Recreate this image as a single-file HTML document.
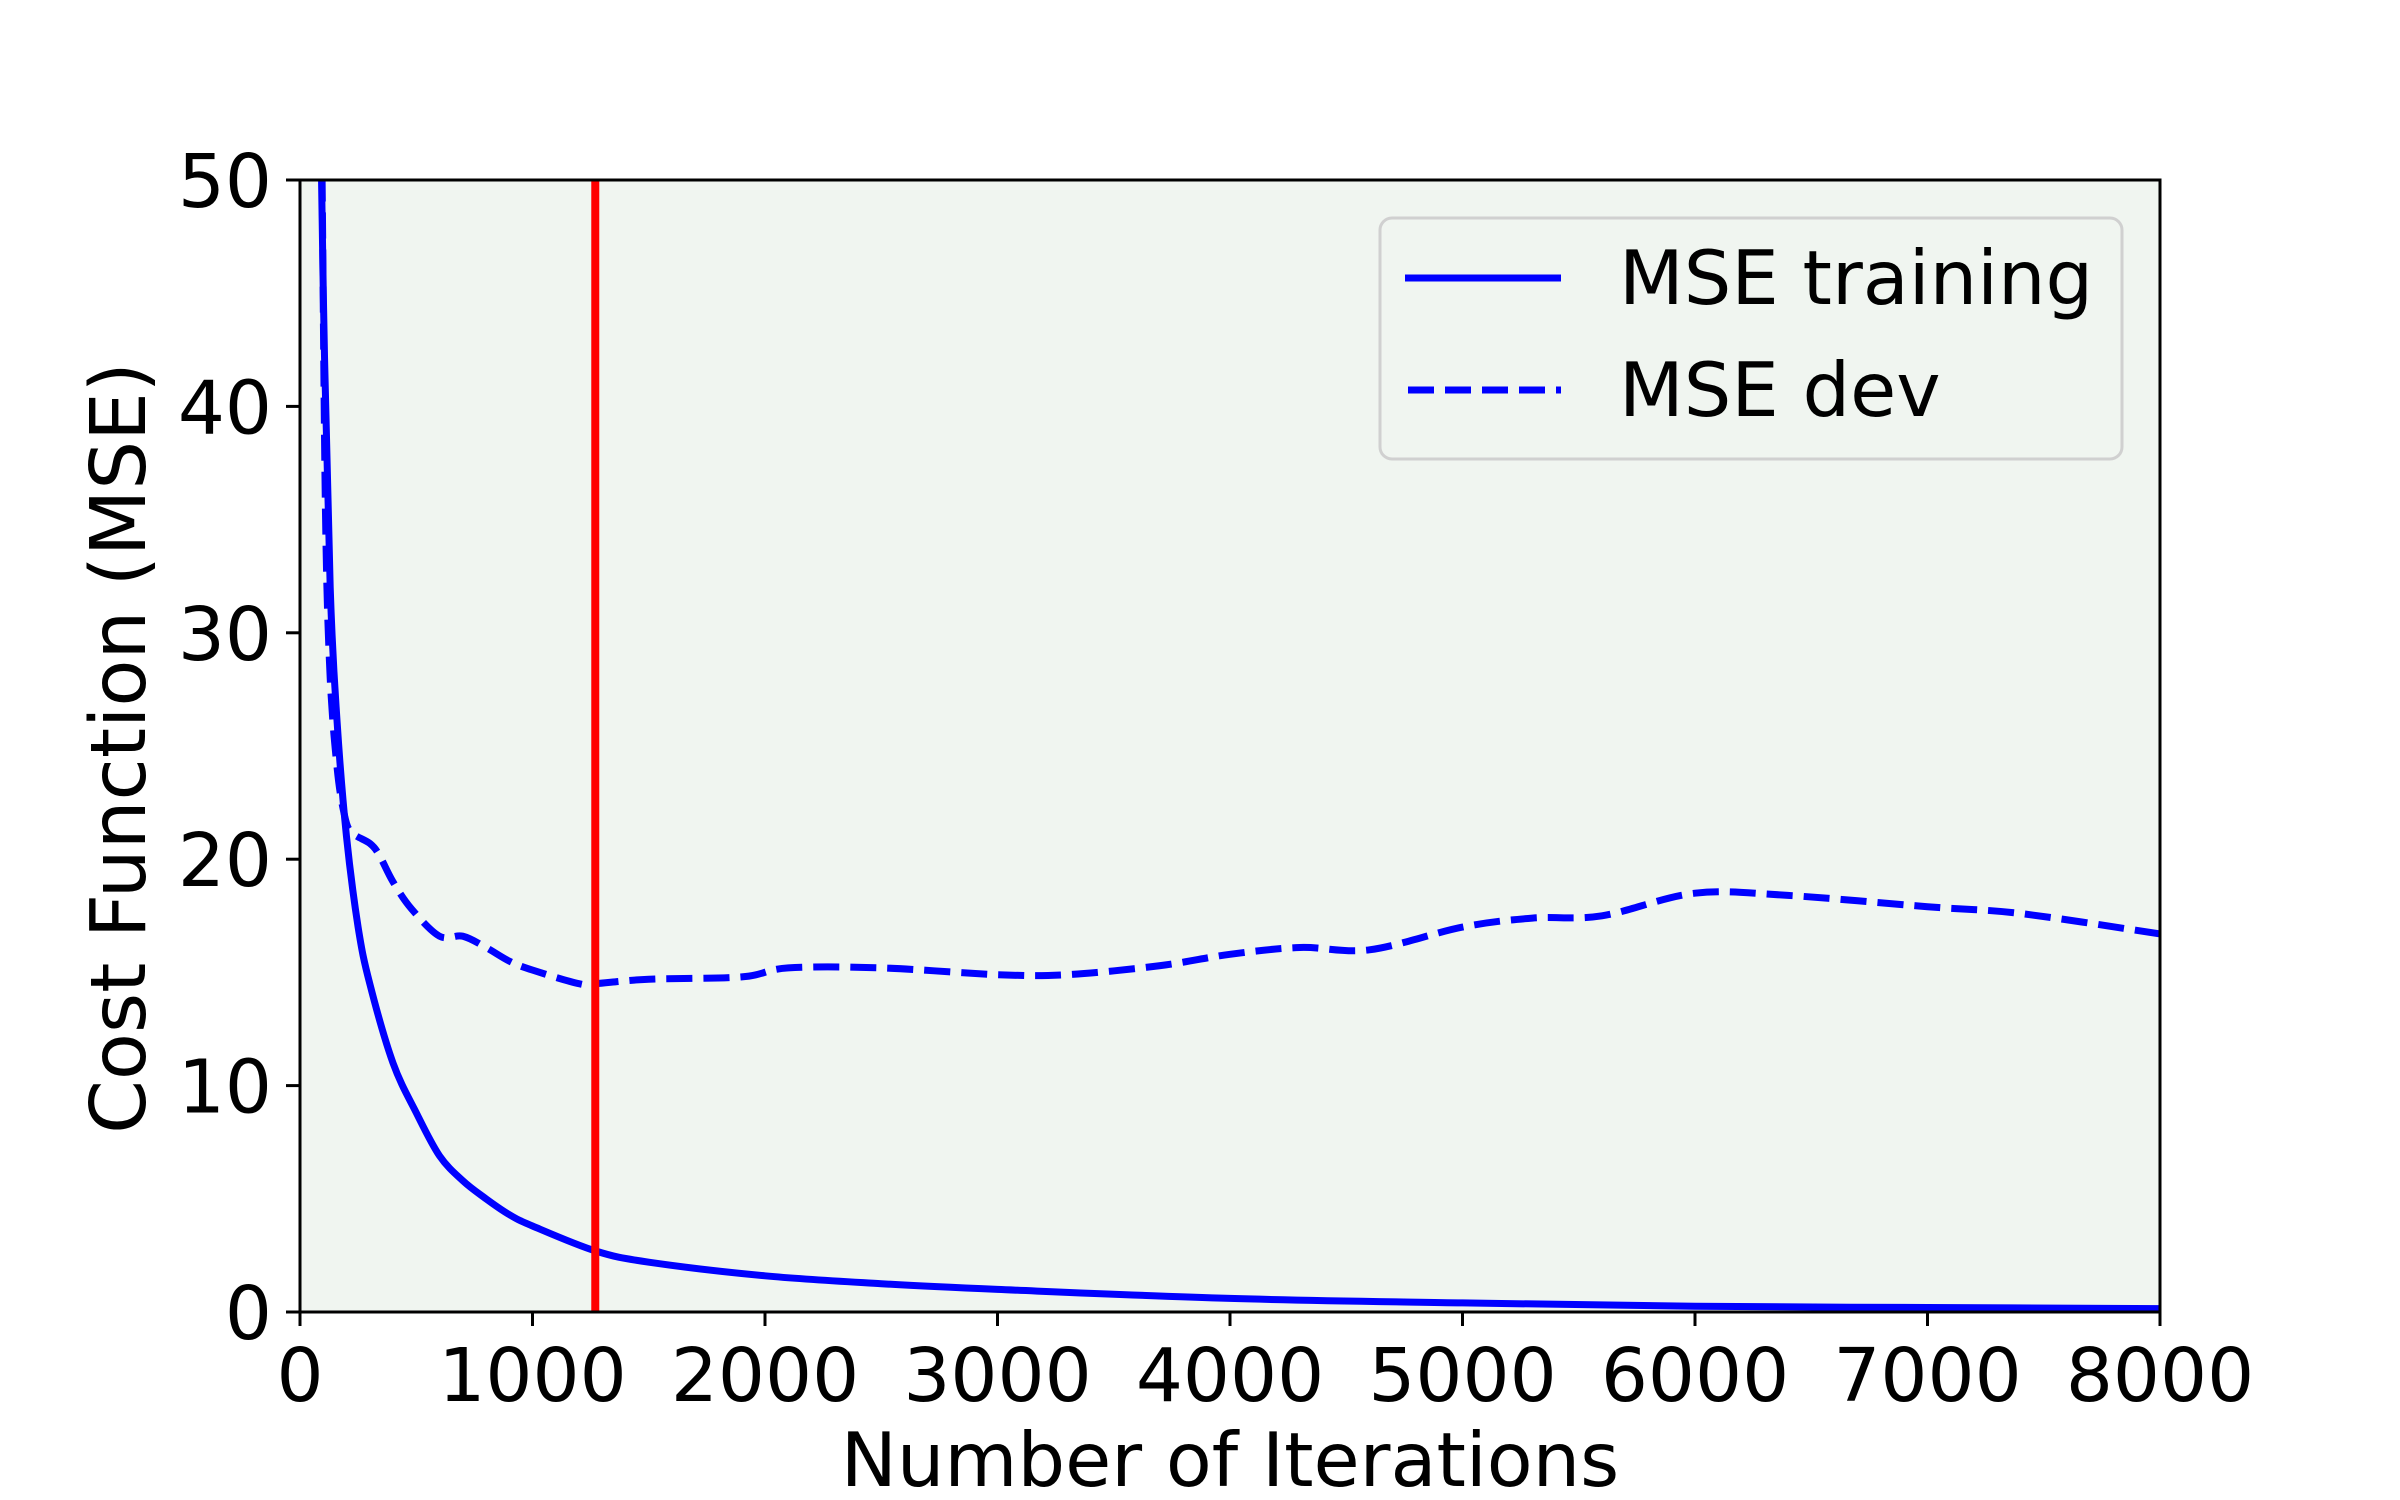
<!DOCTYPE html>
<html><head><meta charset="utf-8"><style>
html,body{margin:0;padding:0;background:#fff}
svg{display:block}
text{font-family:"DejaVu Sans","Liberation Sans",sans-serif;fill:#000}
</style></head><body>
<svg id="chart" width="2400" height="1500" xmlns="http://www.w3.org/2000/svg">
<rect x="300" y="180" width="1860" height="1132" fill="#f0f5f0"/>
<g id="marks"></g>
<g id="axes"></g>
<text transform="translate(145,748) rotate(-90)" text-anchor="middle" font-size="77">Cost Function (MSE)</text>
<text x="1230" y="1486" text-anchor="middle" font-size="75">Number of Iterations</text>
<g>
<rect x="1380" y="218" width="742" height="241" rx="12" fill="#f0f5f0" stroke="#d0d0d0" stroke-width="3"/>
<line x1="1405" y1="278" x2="1561" y2="278" stroke="#0000ff" stroke-width="7"/>
<text x="1619" y="304" font-size="75">MSE training</text>
<line x1="1408" y1="390" x2="1561" y2="390" stroke="#0000ff" stroke-width="7" stroke-dasharray="26,11"/>
<text x="1619" y="416" font-size="75">MSE dev</text>
</g>
</svg>
<script>
const trainX=[80,100,130,160,200,250,300,400,500,600,700,800,900,1000,1270,1500,2000,2500,3000,4000,5000,6000,7000,8000];
const trainY=[60,45,32,26,21,17,14.5,11,8.8,6.9,5.8,5.0,4.3,3.8,2.7,2.2,1.6,1.25,1.0,0.6,0.4,0.25,0.2,0.15];
const devX=[85,95,110,130,160,190,220,300,340,400,480,600,700,800,900,1000,1200,1270,1500,1900,2100,2500,3000,3300,3700,4000,4300,4600,5000,5300,5600,6000,6400,7000,7400,8000];
const devY=[60,50,35,28,24,22,21.2,20.7,20.2,19,17.8,16.6,16.6,16.1,15.5,15.1,14.5,14.5,14.7,14.8,15.2,15.2,14.9,14.9,15.3,15.8,16.1,16.0,17.0,17.4,17.5,18.5,18.4,17.9,17.6,16.7];
const bestIter=[1270];
const xTicks=[0,1000,2000,3000,4000,5000,6000,7000,8000];
const yTicks=[0,10,20,30,40,50];
const X0=300,X1=2160,Y0=1312,Y1=180;
const sx=v=>X0+(v/8000)*(X1-X0);
const sy=v=>Y0-(v/50)*(Y0-Y1);
const NS="http://www.w3.org/2000/svg";
const marks=document.getElementById('marks');
const axes=document.getElementById('axes');
const clip=document.createElementNS(NS,'clipPath');clip.setAttribute('id','pc');
const cr=document.createElementNS(NS,'rect');cr.setAttribute('x',X0);cr.setAttribute('y',Y1);cr.setAttribute('width',X1-X0);cr.setAttribute('height',Y0-Y1);
clip.appendChild(cr);marks.appendChild(clip);
function path(xs,ys,dash,name){
 const p=document.createElementNS(NS,'path');
 let d='M'+sx(xs[0]).toFixed(1)+','+sy(ys[0]).toFixed(1);
 for(let i=1;i<xs.length;i++){
  const x0=sx(xs[i-1]),y0=sy(ys[i-1]),x1=sx(xs[i]),y1=sy(ys[i]);
  const xp=i>1?sx(xs[i-2]):x0,yp=i>1?sy(ys[i-2]):y0;
  const xn=i<xs.length-1?sx(xs[i+1]):x1,yn=i<xs.length-1?sy(ys[i+1]):y1;
  const c1x=x0+(x1-xp)/6,c1y=y0+(y1-yp)/6,c2x=x1-(xn-x0)/6,c2y=y1-(yn-y0)/6;
  d+='C'+c1x.toFixed(1)+','+c1y.toFixed(1)+' '+c2x.toFixed(1)+','+c2y.toFixed(1)+' '+x1.toFixed(1)+','+y1.toFixed(1);
 }
 p.setAttribute('d',d);
 p.setAttribute('fill','none');p.setAttribute('stroke','#0000ff');p.setAttribute('stroke-width','7');
 p.setAttribute('stroke-linejoin','round');p.setAttribute('clip-path','url(#pc)');
 if(dash)p.setAttribute('stroke-dasharray',dash);
 
 
 marks.appendChild(p);
}
path(devX,devY,'26,11','dev-line');
path(trainX,trainY,null,'training-line');
bestIter.forEach(b=>{
 const l=document.createElementNS(NS,'line');
 l.setAttribute('x1',sx(b));l.setAttribute('x2',sx(b));l.setAttribute('y1',Y1);l.setAttribute('y2',Y0);
 l.setAttribute('stroke','#ff0000');l.setAttribute('stroke-width','8');
 
 
 marks.appendChild(l);
});
const fr=document.createElementNS(NS,'rect');
fr.setAttribute('x',X0);fr.setAttribute('y',Y1);fr.setAttribute('width',X1-X0);fr.setAttribute('height',Y0-Y1);
fr.setAttribute('fill','none');fr.setAttribute('stroke','#000');fr.setAttribute('stroke-width','3');


axes.appendChild(fr);
xTicks.forEach(t=>{
 const l=document.createElementNS(NS,'line');
 l.setAttribute('x1',sx(t));l.setAttribute('x2',sx(t));l.setAttribute('y1',Y0);l.setAttribute('y2',Y0+14);
 l.setAttribute('stroke','#000');l.setAttribute('stroke-width','3');
 
 
 axes.appendChild(l);
 const tx=document.createElementNS(NS,'text');
 tx.setAttribute('x',sx(t));tx.setAttribute('y',1401);tx.setAttribute('text-anchor','middle');tx.setAttribute('font-size','74');
 tx.textContent=t;
 
 
 axes.appendChild(tx);
});
yTicks.forEach(t=>{
 const l=document.createElementNS(NS,'line');
 l.setAttribute('x1',X0-14);l.setAttribute('x2',X0);l.setAttribute('y1',sy(t));l.setAttribute('y2',sy(t));
 l.setAttribute('stroke','#000');l.setAttribute('stroke-width','3');
 
 
 axes.appendChild(l);
 const tx=document.createElementNS(NS,'text');
 tx.setAttribute('x',272);tx.setAttribute('y',sy(t)+27);tx.setAttribute('text-anchor','end');tx.setAttribute('font-size','74');
 tx.textContent=t;
 
 
 axes.appendChild(tx);
});
</script>
</body></html>
